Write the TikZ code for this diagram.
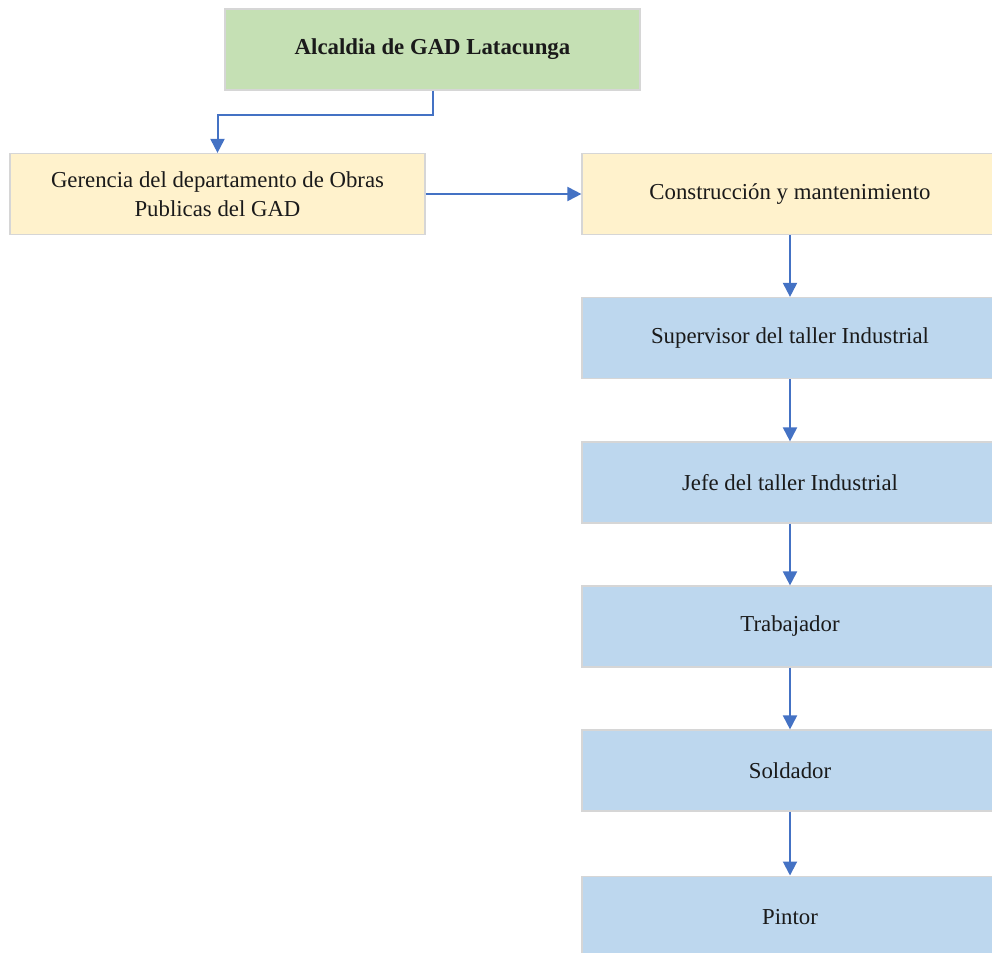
\documentclass[tikz,border=0pt]{standalone}
\usepackage{fontspec}
\setmainfont{Liberation Serif}
\usetikzlibrary{arrows.meta}
\definecolor{greenfill}{HTML}{C5E0B4}
\definecolor{yellowfill}{HTML}{FFF2CC}
\definecolor{bluefill}{HTML}{BDD7EE}
\definecolor{edgegray}{HTML}{D6D6D6}
\definecolor{arrowblue}{HTML}{4472C4}
\definecolor{txt}{HTML}{1A1A1A}
\tikzset{
  box/.style={rectangle, draw=edgegray, line width=1.2pt, minimum width=415pt, minimum height=81pt, inner sep=0pt, align=center, text=txt, font=\fontsize{22.8}{29}\selectfont},
  gbox/.style={box, fill=greenfill, font=\fontsize{22.8}{29}\selectfont\bfseries},
  ybox/.style={box, fill=yellowfill},
  bbox/.style={box, fill=bluefill},
  conn/.style={draw=arrowblue, line width=2pt, -{Triangle[length=14pt,width=14pt]}}
}
\begin{document}
\begin{tikzpicture}[x=1pt,y=-1pt]
\useasboundingbox (0,0) rectangle (992,952);
\clip (0,0) rectangle (992,952);
\node[gbox] (top) at (432.5,49.5) {Alcaldia de GAD Latacunga};
\node[ybox] (ger) at (217.5,194) {Gerencia del departamento de Obras\\Publicas del GAD};
\node[ybox, minimum width=416pt] (con) at (790,194) {Construcción y mantenimiento};
\node[bbox, minimum width=416pt] (sup) at (790,338) {Supervisor del taller Industrial};
\node[bbox, minimum width=416pt] (jefe) at (790,482.5) {Jefe del taller Industrial};
\node[bbox, minimum width=416pt] (trab) at (790,626.5) {Trabajador};
\node[bbox, minimum width=416pt] (sold) at (790,770.5) {Soldador};
\node[bbox, minimum width=416pt, minimum height=100pt, text depth=19pt, anchor=north] (pint) at (790,875.5) {Pintor};
\coordinate (bend) at (432.5,115);
\draw[conn] (top.south) -- (bend) -| (ger.north);
\draw[conn] (ger.east) -- (con.west);
\draw[conn] (con.south) -- (sup.north);
\draw[conn] (sup.south) -- (jefe.north);
\draw[conn] (jefe.south) -- (trab.north);
\draw[conn] (trab.south) -- (sold.north);
\draw[conn] (sold.south) -- (pint.north);
\end{tikzpicture}
\end{document}
